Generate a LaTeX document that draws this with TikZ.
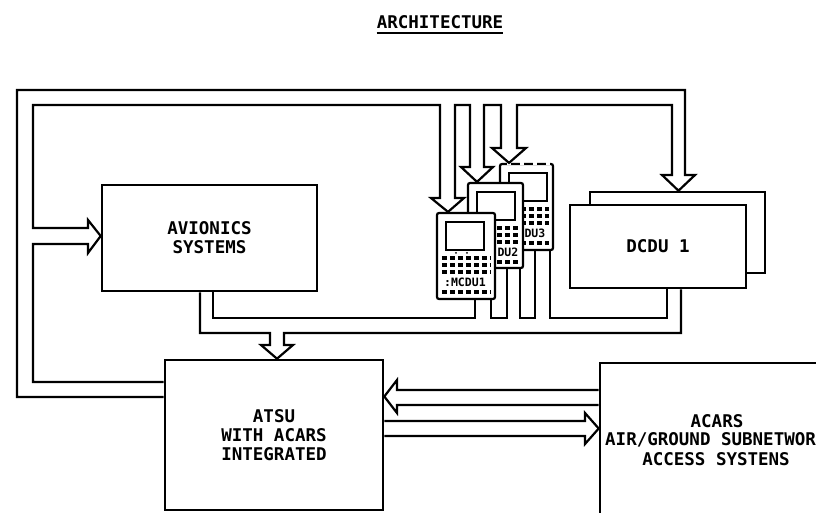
\documentclass[tikz,border=0pt]{standalone}
\usepackage{fontspec}
\newfontfamily\plotfont{DejaVu Sans Mono}
% face of a control display unit: screen, key rows, label
% #1 node, #2 label, #3 label x, #4 right end of key rows
\newcommand\mcduface[4]{%
  \begin{scope}[shift={(#1.north west)}]
    \draw[line width=2pt] (10,10) rectangle (48,38);
    \foreach \r in {46,53,60} \draw[keys] (6,\r) -- (#4,\r);
    \node[tiny] at (#3,70) {#2};
    \draw[keys] (6,80) -- (#4,80);
  \end{scope}}
\begin{document}
\begin{tikzpicture}[x=1pt,y=-1pt,
  wire/.style={line width=2.2pt, line join=miter},
  unit/.style={draw, rectangle, line width=2.6pt, fill=white, inner sep=0pt},
  lbl/.style={font=\plotfont\bfseries\fontsize{17.5}{19}\selectfont, align=center, inner sep=0pt},
  tiny/.style={font=\plotfont\bfseries\fontsize{11.5}{12}\selectfont, inner sep=0pt},
  keys/.style={line width=3.2pt, dash pattern=on 5pt off 3pt},
]
\useasboundingbox (0,0) rectangle (816,513);
\clip (0,0) rectangle (816,513);

% title
\node[lbl] (title) at (440,22) {ARCHITECTURE};
\draw[line width=2pt] (title.west |- 0,33) -- (title.east |- 0,33);

% main units
\node[unit, lbl, minimum width=215pt, minimum height=106pt] (avionics) at (209.5,238) {AVIONICS\\SYSTEMS};
\node[unit, lbl, minimum width=218pt, minimum height=150pt] (atsu) at (274,435) {ATSU\\WITH ACARS\\INTEGRATED};
\node[unit, minimum width=260pt, minimum height=200pt] (acars) at (730,463) {};
\node[lbl] (acarsA) at (717,421) {ACARS};
\node[lbl, anchor=west] (acarsB) at (605,440) {AIR/GROUND SUBNETWOR};
\node[lbl] (acarsC) at (716,459) {ACCESS SYSTENS};

% DCDU pair
\node[unit, minimum width=175pt, minimum height=81pt] (dcduback) at (677.5,232.5) {};
\node[unit, lbl, minimum width=176pt, minimum height=83pt] (dcdu) at (658,246.5) {DCDU 1};

% three stacked MCDUs, back to front
\node[unit, line width=2.2pt, rounded corners=2pt, minimum width=53pt, minimum height=86pt] (mcdu3) at (526.5,207) {};
\draw[white, line width=3pt, dash pattern=on 4pt off 9pt] ([yshift=-1.1pt,xshift=8pt]mcdu3.north west) -- ([yshift=-1.1pt,xshift=-4pt]mcdu3.north east);
\mcduface{mcdu3}{DU3}{36}{50}
\node[unit, line width=2.2pt, rounded corners=2pt, minimum width=55pt, minimum height=85pt] (mcdu2) at (495.5,225.5) {};
\mcduface{mcdu2}{DU2}{41}{52}
\node[unit, line width=2.2pt, rounded corners=2pt, minimum width=58pt, minimum height=86pt] (mcdu1) at (466,256) {};
\mcduface{mcdu1}{:MCDU1}{29}{55}
\fill ([shift={(20,41)}]mcdu1.north west) circle (1pt);
\fill ([shift={(31,41)}]mcdu1.north west) circle (1pt);

% upper bus: from ATSU round to AVIONICS, the MCDUs and the DCDU
\draw[wire] (atsu.west |- 0,382) -- (33,382) -- (33,244) -- (88,244) -- (88,253)
  -- (avionics.west |- 0,236) -- (88,220) -- (88,228) -- (33,228) -- (33,105)
  -- (440,105) -- (440,198) -- (431,198) -- (448,0 |- mcdu1.north) -- (464,198) -- (455,198) -- (455,105)
  -- (470,105) -- (470,167) -- (461,167) -- (477,0 |- mcdu2.north) -- (493,167) -- (484,167) -- (484,105)
  -- (501,105) -- (501,148) -- (492,148) -- (509,0 |- mcdu3.north) -- (526,148) -- (517,148) -- (517,105)
  -- (672,105) -- (672,175) -- (662,175) -- (678.5,0 |- dcduback.north) -- (695,175) -- (685,175)
  -- (685,90) -- (17,90) -- (17,397) -- (atsu.west |- 0,397);

% lower bus: from AVIONICS, MCDUs and DCDU down into ATSU
\draw[wire] (200,0 |- avionics.south) -- (200,333) -- (270,333) -- (270,345) -- (261,345)
  -- (277,0 |- atsu.north) -- (293,345) -- (284,345) -- (284,333) -- (681,333) -- (681,0 |- dcdu.south);
\draw[wire] (213,0 |- avionics.south) -- (213,318) -- (475,318) -- (475,0 |- mcdu1.south);
\draw[wire] (491,0 |- mcdu1.south) -- (491,318) -- (507,318) -- (507,0 |- mcdu2.south);
\draw[wire] (520,0 |- mcdu2.south) -- (520,318) -- (535,318) -- (535,0 |- mcdu3.south);
\draw[wire] (550,0 |- mcdu3.south) -- (550,318) -- (667,318) -- (667,0 |- dcdu.south);

% ACARS air/ground link in both directions
\draw[wire] (acars.west |- 0,390) -- (397,390) -- (397,380) -- (atsu.east |- 0,396.5)
  -- (397,413) -- (397,405) -- (acars.west |- 0,405);
\draw[wire] (atsu.east |- 0,421) -- (585,421) -- (585,413) -- (acars.west |- 0,428.5)
  -- (585,444) -- (585,436) -- (atsu.east |- 0,436);
\end{tikzpicture}
\end{document}
